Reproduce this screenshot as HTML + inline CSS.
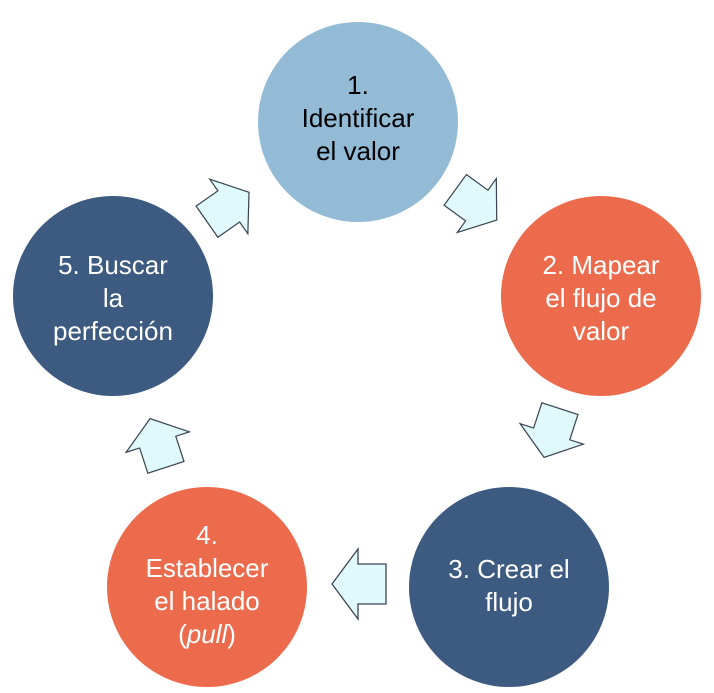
<!DOCTYPE html>
<html><head><meta charset="utf-8"><style>
body{margin:0;background:#fff;}
svg{display:block;}
text{font-family:"Liberation Sans",sans-serif;font-size:26px;fill:#fff;text-anchor:middle;}
</style></head><body>
<svg width="714" height="693" viewBox="0 0 714 693" xmlns="http://www.w3.org/2000/svg">
<defs>
<polygon id="ar" points="-27,-20 1,-20 1,-35 27,0 1,35 1,20 -27,20" fill="#E0FAFC" stroke="#3b4654" stroke-width="1.3" stroke-linejoin="miter"/>
</defs>
<circle cx="358" cy="122" r="100" fill="#94BBD6"/>
<circle cx="601" cy="296" r="100" fill="#EC6B4D"/>
<circle cx="509" cy="587" r="100" fill="#3D5A80"/>
<circle cx="207" cy="587" r="100" fill="#EC6B4D"/>
<circle cx="113" cy="296" r="100" fill="#3D5A80"/>
<use href="#ar" transform="translate(228,207) rotate(-35) scale(0.95)"/>
<use href="#ar" transform="translate(476,205) rotate(36) scale(0.95)"/>
<use href="#ar" transform="translate(552,433) rotate(108) scale(0.95)"/>
<use href="#ar" transform="translate(359,584) rotate(180)"/>
<use href="#ar" transform="translate(158,443) rotate(-108) scale(0.95)"/>
<text x="358" y="94" style="fill:#000">1.</text>
<text x="358" y="127" style="fill:#000">Identificar</text>
<text x="358" y="160" style="fill:#000">el valor</text>
<text x="601" y="274">2. Mapear</text>
<text x="601" y="307">el flujo de</text>
<text x="601" y="340">valor</text>
<text x="509" y="578">3. Crear el</text>
<text x="509" y="611">flujo</text>
<text x="207" y="544">4.</text>
<text x="207" y="577">Establecer</text>
<text x="207" y="610">el halado</text>
<text x="207" y="643">(<tspan font-style="italic">pull</tspan>)</text>
<text x="113" y="274">5. Buscar</text>
<text x="113" y="307">la</text>
<text x="113" y="340">perfección</text>
</svg>
</body></html>
